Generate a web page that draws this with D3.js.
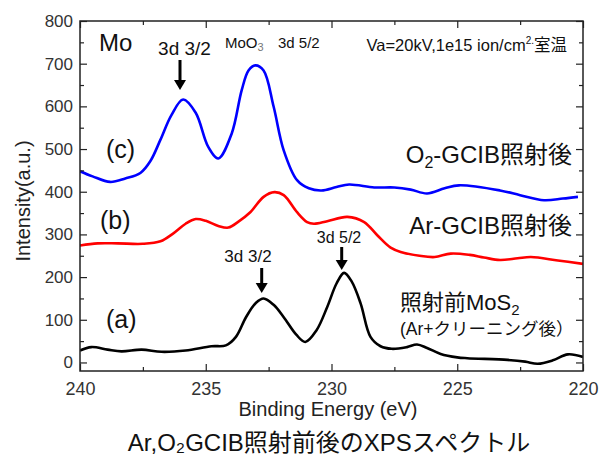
<!DOCTYPE html>
<html><head><meta charset="utf-8">
<script src="https://cdn.jsdelivr.net/npm/d3@7"></script>
<style>
body{margin:0;background:#fff;}
text{font-family:"Liberation Sans",Arial,"Noto Sans CJK JP",sans-serif;}
</style></head>
<body><svg id="c" width="600" height="455"></svg>
<script>
// Binding energy (eV) and intensity for each spectrum
const blueE = [240,239.5,238.8,238.2,237.6,237.2,236.8,236.37,235.9,235.4,234.9,234.5,233.97,233.57,233.3,233.03,232.7,232.3,231.9,231.37,230.9,230.4,229.8,229.3,228.3,227.5,226.85,226.2,225.5,224.93,223.3,222.5,221.55,220.8,220.2];
const blueV = [448,436,423,431,444,472,522,579,616,585,505,478,536,638,684,696,684,599,497,427,408,403,411,417,410,410,405,396,408,415,403,392,380,384,388];
const redE = [240,239.3,238.5,237.5,236.8,236.3,235.8,235.4,235.0,234.5,234.1,233.7,233.23,232.7,232.27,231.9,231.37,230.97,230.7,230.17,229.37,228.7,228.18,227.65,227.25,226.5,225.9,225.26,224.5,223.94,223.3,222.6,222.07,221.0,220];
const redV = [274,279,279,278,284,302,325,336,332,320,316,330,352,388,399,392,352,329,325,331,341,329,298,269,259,250,247,255,252,246,240,244,247,239,231];
const blackE = [240,239.55,238.9,238.35,237.55,236.76,235.8,234.77,234.2,233.8,233.4,233.0,232.7,232.3,231.9,231.4,231.04,230.6,230.17,229.8,229.5,229.2,228.84,228.45,228.05,227.6,227.0,226.6,226.2,225.66,225.0,224.6,223.0,222.3,221.8,221.2,220.6,220];
const blackV = [28,36,30,26,30,25,28,38,40,60,106,140,150,135,106,65,48,75,130,185,210,190,138,60,38,32,36,42,34,20,12,10,6,2,-3,5,19,13];
const xTicks = [240,235,230,225,220];
const yTicks = [0,100,200,300,400,500,600,700,800];

const svg = d3.select("#c");
const L=80,R=583,T=21,B=371;
const x = d3.scaleLinear().domain([240,220]).range([L,R]);
const y = d3.scaleLinear().domain([-20,800]).range([B,T]);

const line = d3.line().x(d=>x(d[0])).y(d=>y(d[1])).curve(d3.curveCatmullRom.alpha(0.5));
const series = [
  {E:blackE,V:blackV,c:"#000"},
  {E:redE,V:redV,c:"#ff0000"},
  {E:blueE,V:blueV,c:"#0000ff"}
];
svg.append("defs").append("clipPath").attr("id","clip").append("rect").attr("x",L).attr("y",T).attr("width",R-L).attr("height",B-T);
series.forEach(s=>{
  svg.append("path").datum(s.E.map((e,i)=>[e,s.V[i]]))
    .attr("d",line).attr("fill","none").attr("stroke",s.c).attr("stroke-width",2.6)
    .attr("stroke-linejoin","round").attr("clip-path","url(#clip)");
});

// axes with inward ticks
const minorX = d3.range(240,219,-2.5).filter(v=>!xTicks.includes(v));
const minorY = d3.range(50,800,100);
function axisGroup(axis, tr){ const g=svg.append("g").attr("transform",tr).call(axis); g.select(".domain").remove(); return g; }
const tickCol="#333";
axisGroup(d3.axisBottom(x).tickValues(xTicks).tickSize(-7).tickPadding(11).tickFormat(d3.format("d")),`translate(0,${B})`)
  .call(g=>g.selectAll("text").attr("font-size",18).attr("fill",tickCol));
axisGroup(d3.axisBottom(x).tickValues(minorX).tickSize(-4).tickFormat(""),`translate(0,${B})`);
axisGroup(d3.axisTop(x).tickValues(xTicks).tickSize(-7).tickFormat(""),`translate(0,${T})`);
axisGroup(d3.axisTop(x).tickValues(minorX).tickSize(-4).tickFormat(""),`translate(0,${T})`);
axisGroup(d3.axisLeft(y).tickValues(yTicks).tickSize(-7).tickPadding(7).tickFormat(d3.format("d")),`translate(${L},0)`)
  .call(g=>g.selectAll("text").attr("font-size",17).attr("fill",tickCol));
axisGroup(d3.axisLeft(y).tickValues(minorY).tickSize(-4).tickFormat(""),`translate(${L},0)`);
axisGroup(d3.axisRight(y).tickValues(yTicks).tickSize(-7).tickFormat(""),`translate(${R},0)`);
axisGroup(d3.axisRight(y).tickValues(minorY).tickSize(-4).tickFormat(""),`translate(${R},0)`);
svg.selectAll(".tick line").attr("stroke","#222").attr("stroke-width",1.2);
svg.append("rect").attr("x",L).attr("y",T).attr("width",R-L).attr("height",B-T)
  .attr("fill","none").attr("stroke","#222").attr("stroke-width",1.5);

// labels
const txt=(s,xx,yy,fs,anchor="start",col="#111")=>svg.append("text").attr("x",xx).attr("y",yy).attr("font-size",fs).attr("text-anchor",anchor).attr("fill",col).text(s);
txt("Binding Energy (eV)",328,416,20,"middle","#222");
svg.append("text").attr("transform","translate(30,201) rotate(-90)").attr("text-anchor","middle").attr("font-size",20).attr("fill","#222").text("Intensity(a.u.)");
txt("Ar,O\u2082GCIB照射前後のXPSスペクトル",329,451,24,"middle","#111");

txt("Mo",99,51,24);
txt("3d 3/2",184.5,55,19,"middle");
const t1=svg.append("text").attr("x",225).attr("y",48).attr("font-size",15).attr("fill","#111");
t1.append("tspan").text("MoO");
t1.append("tspan").attr("font-size",11).attr("dy",3).attr("fill","#777").text("3");
txt("3d 5/2",278,48,15);
const t2=svg.append("text").attr("x",567).attr("y",51).attr("font-size",16.5).attr("text-anchor","end").attr("fill","#111");
t2.append("tspan").text("Va=20kV,1e15 ion/cm");
t2.append("tspan").attr("font-size",10).attr("dy",-7).text("2.");
t2.append("tspan").attr("dy",7).text("室温");

txt("(c)",106,158,25);
const t3=svg.append("text").attr("x",572).attr("y",163).attr("font-size",24).attr("text-anchor","end").attr("fill","#111");
t3.append("tspan").text("O");
t3.append("tspan").attr("font-size",16).attr("dy",5).text("2");
t3.append("tspan").attr("dy",-5).text("-GCIB照射後");
txt("(b)",100,229,25);
txt("Ar-GCIB照射後",572,234,24,"end");
txt("(a)",106,328,25);
txt("3d 3/2",248,262,17,"middle");
txt("3d 5/2",339,243,16,"middle");
const t4=svg.append("text").attr("x",400).attr("y",310).attr("font-size",22).attr("fill","#111");
t4.append("tspan").text("照射前MoS");
t4.append("tspan").attr("font-size",15).attr("dy",5).text("2");
txt("(Ar+クリーニング後）",400,335,17.5);

// arrows
function arrow(xx,y1,y2){
  svg.append("line").attr("x1",xx).attr("x2",xx).attr("y1",y1).attr("y2",y2-8).attr("stroke","#000").attr("stroke-width",3);
  svg.append("path").attr("d",`M${xx-6},${y2-10}L${xx+6},${y2-10}L${xx},${y2}Z`).attr("fill","#000");
}
arrow(180,60,90);
arrow(261.7,268,293);
arrow(341.7,247,270);
</script></body></html>
